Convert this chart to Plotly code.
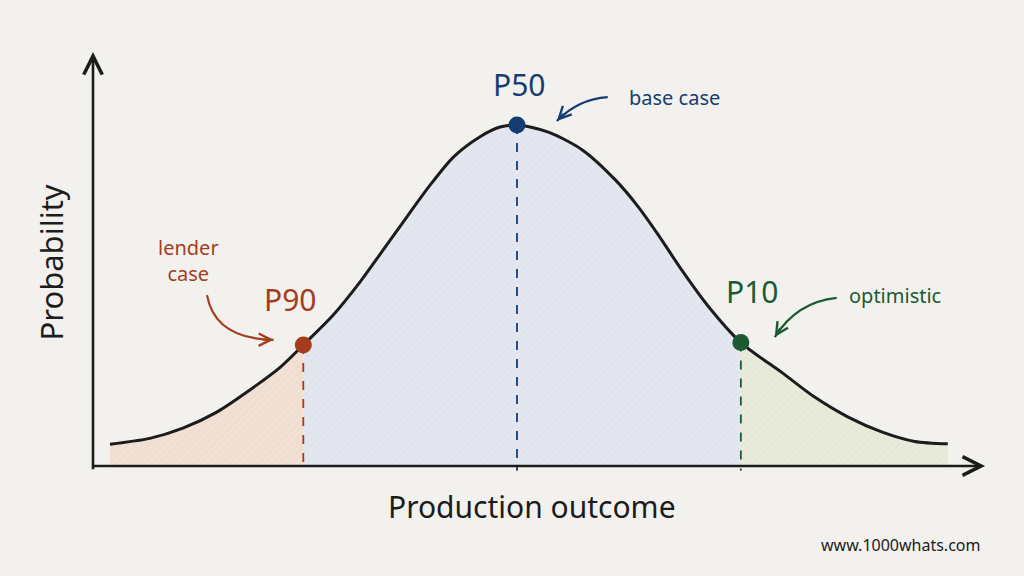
import math
import plotly.graph_objects as go

# ---- data ----
# x: production outcome (arbitrary units, P50 = 50), y: relative probability (peak = 1)
curve_x = [2.0, 6.7, 10.6, 14.6, 18.5, 22.1, 24.8, 28.3, 31.5, 34.2, 37.0, 39.7, 42.5,
           45.6, 48.0, 50.0, 53.7, 57.7, 61.6, 64.3, 66.6, 69.5, 72.5, 76.4, 81.3,
           85.1, 89.0, 93.0, 96.9, 100.8]
curve_y = [0.064, 0.081, 0.111, 0.158, 0.223, 0.290, 0.355, 0.442, 0.540, 0.633, 0.730,
           0.822, 0.906, 0.965, 0.994, 1.000, 0.979, 0.927, 0.839, 0.760, 0.680, 0.572,
           0.470, 0.362, 0.273, 0.202, 0.144, 0.100, 0.072, 0.065]

point_names = ["P90", "P50", "P10"]
point_x = [24.8, 50.0, 76.4]
point_y = [0.355, 1.000, 0.362]
point_colors = ["#a53c1e", "#163d72", "#1d5a31"]
callouts = ["lender<br>case", "base case", "optimistic"]

fill_colors = ["#f1e1d5", "#e4e7ef", "#e8eadb"]
hatch_colors = ["#ecd2c2", "#d7dded", "#dde2c9"]

x_axis_end = 105.2
y_axis_end = 1.214

BG = "#f2f1ed"
FONT = "Noto Sans"
INK = "#1c1c1c"

# axis scale (pixels per data unit) used only to orient small arrowheads
PX_X = 1024 / (109.79 + 10.967)
PX_Y = 576 / (1.3666 + 0.3226)

fig = go.Figure()

# shaded regions split at P90 and P10
i90 = curve_x.index(point_x[0])
i10 = curve_x.index(point_x[2])
segments = [(0, i90 + 1), (i90, i10 + 1), (i10, len(curve_x))]
for (a, b), col, hc in zip(segments, fill_colors, hatch_colors):
    fig.add_trace(go.Scatter(x=curve_x[a:b], y=curve_y[a:b], mode="lines",
                             line=dict(width=0, shape="spline", smoothing=0.8),
                             fill="tozeroy", fillcolor=col,
                             fillpattern=dict(shape="/", fgcolor=hc, bgcolor=col,
                                              size=5, solidity=0.25),
                             hoverinfo="skip", showlegend=False))

# dashed drop lines
for px, py, c in zip(point_x, point_y, point_colors):
    fig.add_trace(go.Scatter(x=[px, px], y=[py, -0.014], mode="lines",
                             line=dict(color=c, width=1.8, dash="dash"),
                             hoverinfo="skip", showlegend=False))

# bell curve
fig.add_trace(go.Scatter(x=curve_x, y=curve_y, mode="lines",
                         line=dict(color=INK, width=3, shape="spline", smoothing=0.8),
                         hoverinfo="skip", showlegend=False))

# markers
fig.add_trace(go.Scatter(x=point_x, y=point_y, mode="markers",
                         marker=dict(size=17, color=point_colors),
                         hoverinfo="skip", showlegend=False))

ann = []
shapes = []

# axes with arrowheads
ann.append(dict(x=x_axis_end, y=0, ax=-0.3, ay=0, axref="x", ayref="y", xref="x", yref="y",
                text="", showarrow=True, arrowhead=5, arrowsize=1.4, arrowwidth=2.6,
                arrowcolor=INK, standoff=0))
ann.append(dict(x=0, y=y_axis_end, ax=0, ay=-0.014, axref="x", ayref="y", xref="x", yref="y",
                text="", showarrow=True, arrowhead=5, arrowsize=1.4, arrowwidth=2.6,
                arrowcolor=INK, standoff=0))

# point labels
label_pos = [(23.2, 0.487), (50.2, 1.118), (77.7, 0.513)]
for name, (lx, ly), c in zip(point_names, label_pos, point_colors):
    ann.append(dict(x=lx, y=ly, text=name, showarrow=False,
                    font=dict(family=FONT, size=30, color=c)))

# callout texts
callout_pos = [(11.3, 0.604), (68.6, 1.082), (94.6, 0.499)]
for t, (lx, ly), c in zip(callouts, callout_pos, point_colors):
    ann.append(dict(x=lx, y=ly, text=t, showarrow=False,
                    font=dict(family=FONT, size=20, color=c)))

# curved callout arrows: (start, control, end)
arrows = [((13.44, 0.501), (14.4, 0.372), (21.3, 0.370)),
          ((60.7, 1.082), (57.2, 1.076), (54.7, 1.012)),
          ((87.7, 0.493), (83.0, 0.481), (80.4, 0.378))]
for (s, q, e), c in zip(arrows, point_colors):
    shapes.append(dict(type="path", xref="x", yref="y",
                       path=f"M {s[0]},{s[1]} Q {q[0]},{q[1]} {e[0]},{e[1]}",
                       line=dict(color=c, width=2.2)))
    dxp = (e[0] - q[0]) * PX_X
    dyp = (e[1] - q[1]) * PX_Y
    n = math.hypot(dxp, dyp)
    L = 12.0
    tail_x = e[0] - dxp / n * L / PX_X
    tail_y = e[1] - dyp / n * L / PX_Y
    ann.append(dict(x=e[0], y=e[1], ax=tail_x, ay=tail_y, axref="x", ayref="y",
                    xref="x", yref="y", text="", showarrow=True, arrowhead=5,
                    arrowsize=1.1, arrowwidth=2.2, arrowcolor=c, standoff=0))

# axis titles
ann.append(dict(x=-4.9, y=0.598, text="Probability", textangle=-90, showarrow=False,
                font=dict(family=FONT, size=31, color=INK)))
ann.append(dict(x=51.8, y=-0.120, text="Production outcome", showarrow=False,
                font=dict(family=FONT, size=30, color=INK)))
ann.append(dict(x=95.2, y=-0.232, text="www.1000whats.com", showarrow=False,
                font=dict(family=FONT, size=16, color=INK)))

fig.update_layout(
    width=1024, height=576,
    margin=dict(l=0, r=0, t=0, b=0),
    paper_bgcolor=BG, plot_bgcolor=BG,
    xaxis=dict(range=[-10.967, 109.79], visible=False, fixedrange=True),
    yaxis=dict(range=[-0.3226, 1.3666], visible=False, fixedrange=True),
    annotations=ann, shapes=shapes, showlegend=False,
)

fig.write_html("out.html")
